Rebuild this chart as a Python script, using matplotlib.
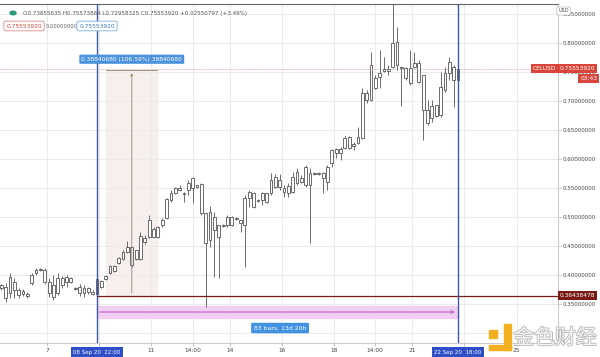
import numpy as np
import matplotlib.pyplot as plt
import matplotlib.patheffects as pe
from matplotlib.patches import Rectangle, Circle

plt.rcParams['font.family'] = ['DejaVu Sans']

# 4時間足 CELUSD (05 Sep - 22 Sep 2020)
o = [0.3776, 0.3793, 0.3690, 0.3879, 0.3741, 0.3672, 0.3638, 0.3862, 0.4034, 0.4086,
     0.4086, 0.3879, 0.3621, 0.3690, 0.3948, 0.3879, 0.3948, 0.3776, 0.3793, 0.3690,
     0.3776, 0.3707, 0.3672, 0.3897, 0.3931, 0.4034, 0.4069, 0.4207, 0.4276, 0.4397,
     0.4483, 0.4276, 0.4276, 0.4638, 0.4655, 0.4793, 0.4655, 0.4862, 0.4983, 0.5293,
     0.5414, 0.5466, 0.5414, 0.5466, 0.5500, 0.5552, 0.5569, 0.5069, 0.4603, 0.5000,
     0.4655, 0.4862, 0.4862, 0.5000, 0.4966, 0.4948, 0.4862, 0.5328, 0.5414, 0.5276,
     0.5293, 0.5414, 0.5414, 0.5690, 0.5517, 0.5500, 0.5414, 0.5431, 0.5586, 0.5672,
     0.5552, 0.5759, 0.5741, 0.5759, 0.5759, 0.5603, 0.5931, 0.6103, 0.6172, 0.6190,
     0.6379, 0.6224, 0.6276, 0.6362, 0.7138, 0.7017, 0.7397, 0.7414, 0.7517, 0.7552,
     0.7586, 0.8017, 0.7586, 0.7569, 0.7310, 0.7586, 0.7655, 0.7448, 0.6845, 0.6707,
     0.6931, 0.6759, 0.7190, 0.7483, 0.7586, 0.73655635]
h = [0.3845, 0.3862, 0.4034, 0.3948, 0.3776, 0.3759, 0.3707, 0.4034, 0.4121, 0.4121,
     0.4121, 0.3948, 0.4000, 0.4034, 0.3983, 0.4000, 0.3966, 0.3793, 0.3845, 0.3828,
     0.3793, 0.3741, 0.3983, 0.3914, 0.4000, 0.4172, 0.4172, 0.4310, 0.4431, 0.4586,
     0.4483, 0.4431, 0.4741, 0.4690, 0.5034, 0.4828, 0.4845, 0.4983, 0.5328, 0.5466,
     0.5517, 0.5552, 0.5431, 0.5638, 0.5690, 0.5552, 0.5586, 0.5069, 0.5190, 0.5086,
     0.4862, 0.4879, 0.5034, 0.5017, 0.5000, 0.4948, 0.5379, 0.5466, 0.5431, 0.5310,
     0.5431, 0.5414, 0.5759, 0.5741, 0.5741, 0.5552, 0.5586, 0.5776, 0.5845, 0.5724,
     0.5897, 0.5845, 0.5776, 0.5776, 0.5776, 0.5897, 0.6172, 0.6190, 0.6207, 0.6397,
     0.6397, 0.6293, 0.6552, 0.7224, 0.7190, 0.7845, 0.7448, 0.7879, 0.7759, 0.7621,
     0.8690, 0.8276, 0.7586, 0.7586, 0.7879, 0.7845, 0.7707, 0.7448, 0.7017, 0.7017,
     0.6931, 0.7500, 0.7586, 0.7759, 0.7621, 0.75573864]
l = [0.3741, 0.3534, 0.3603, 0.3603, 0.3603, 0.3638, 0.3603, 0.3828, 0.4000, 0.4069,
     0.3845, 0.3621, 0.3569, 0.3655, 0.3776, 0.3793, 0.3862, 0.3741, 0.3638, 0.3621,
     0.3672, 0.3655, 0.36438478, 0.3776, 0.3914, 0.4017, 0.4052, 0.4190, 0.4259, 0.4380,
     0.4138, 0.4259, 0.4259, 0.4534, 0.4638, 0.4638, 0.4638, 0.4828, 0.4966, 0.5259,
     0.5397, 0.5448, 0.5259, 0.5379, 0.5241, 0.5500, 0.5034, 0.3448, 0.4483, 0.3966,
     0.3948, 0.4828, 0.4828, 0.4845, 0.4948, 0.4741, 0.4138, 0.5172, 0.5155, 0.5259,
     0.5207, 0.5241, 0.5379, 0.5500, 0.5466, 0.5345, 0.5345, 0.5414, 0.5552, 0.5586,
     0.5517, 0.4552, 0.5724, 0.5724, 0.5414, 0.5466, 0.5862, 0.6017, 0.5983, 0.6172,
     0.6172, 0.6155, 0.6260, 0.6350, 0.6966, 0.7000, 0.7210, 0.7224, 0.7500, 0.7448,
     0.7570, 0.7534, 0.6914, 0.7362, 0.7276, 0.7570, 0.7310, 0.6328, 0.6586, 0.6638,
     0.6730, 0.6724, 0.7155, 0.7362, 0.6897, 0.72958325]
c = [0.3828, 0.3603, 0.3966, 0.3741, 0.3655, 0.3724, 0.3672, 0.4000, 0.4086, 0.4103,
     0.3879, 0.3690, 0.3828, 0.3948, 0.3828, 0.3966, 0.3879, 0.3759, 0.3690, 0.3776,
     0.3707, 0.3672, 0.3931, 0.3793, 0.3983, 0.4155, 0.4155, 0.4293, 0.4397, 0.4483,
     0.4172, 0.4431, 0.4672, 0.4569, 0.4948, 0.4655, 0.4828, 0.4948, 0.5310, 0.5414,
     0.5500, 0.5500, 0.5397, 0.5586, 0.5672, 0.5517, 0.5069, 0.4552, 0.5086, 0.4776,
     0.4862, 0.4845, 0.5000, 0.4862, 0.4983, 0.4897, 0.5328, 0.5431, 0.5172, 0.5293,
     0.5414, 0.5259, 0.5638, 0.5517, 0.5638, 0.5431, 0.5534, 0.5690, 0.5776, 0.5603,
     0.5862, 0.5552, 0.5759, 0.5741, 0.5672, 0.5862, 0.6155, 0.6172, 0.6103, 0.6362,
     0.6190, 0.6259, 0.6379, 0.7138, 0.7017, 0.7621, 0.7224, 0.7483, 0.7552, 0.7517,
     0.8000, 0.7621, 0.7569, 0.7397, 0.7569, 0.7655, 0.7328, 0.6845, 0.6621, 0.6914,
     0.6741, 0.7241, 0.7483, 0.7672, 0.7362, 0.75553920]

# x軸ラベル (測定開始バーからの時間 [h])、空文字は日付ボックスの下に隠れる目盛り
tick_labels = ["7", "", "11", "14:00", "14", "16", "18", "14:00", "21", "", "25"]
tick_hours = [-46, 2, 50, 88, 122, 170, 218, 256, 290, 338, 386]
price_ticks = [0.30, 0.35, 0.40, 0.45, 0.50, 0.55, 0.60, 0.65, 0.70, 0.75, 0.80, 0.85]

start_idx, end_idx = 22, 105
meas_low = 0.36438478
meas_diff = 0.38840680
meas_high = meas_low + meas_diff
last_price = c[-1]

fig = plt.figure(figsize=(6, 3.57), dpi=100)
ax = fig.add_axes([0, 14 / 357, 558 / 600, 339 / 357])

x = np.arange(len(o))
lo_b = np.minimum(o, c)
hi_b = np.maximum(o, c)
ax.vlines(x, l, h, color='#555555', lw=0.6, zorder=3)
ax.bar(x, hi_b - lo_b, bottom=lo_b, width=0.64, color='white',
       edgecolor='#555555', lw=0.6, zorder=4)

ax.set_xlim(-0.3, 128)
ax.set_ylim(0.2828, 0.8672)

# 目盛り・グリッド
xt = [start_idx + hr / 4 for hr in tick_hours]
ax.set_xticks(xt)
ax.set_xticklabels(tick_labels, fontsize=4.2, color='#444444')
ax.yaxis.tick_right()
ax.set_yticks(price_ticks)
ax.set_yticklabels(['' if p < 0.33 else '%.8f' % p for p in price_ticks],
                   fontsize=4, color='#444444')
ax.tick_params(axis='both', length=2, width=0.5, color='#aaaaaa', pad=1.5)
ax.grid(color='#ebebeb', lw=0.7, zorder=0)
ax.spines['left'].set_visible(False)
ax.spines['top'].set_color('#666666')
ax.spines['top'].set_linewidth(0.8)
ax.spines['right'].set_color('#cccccc')
ax.spines['bottom'].set_color('#cccccc')

# 現在値の点線
ax.axhline(last_price, color='#e5aaaa', lw=0.6, ls=(0, (2, 1.5)), zorder=2)

# 価格レンジ計測ツール
x0, x1 = start_idx + 2.1, start_idx + 13.8
ax.add_patch(Rectangle((x0, meas_low), x1 - x0, meas_diff, color='#f7eeee', zorder=1))
ax.plot([x0, x1], [meas_high, meas_high], color='#8a8a6a', lw=0.6, zorder=5)
ax.annotate('', xy=(30, meas_high), xytext=(30, meas_low),
            arrowprops=dict(arrowstyle='->', color='#8a8a6a', lw=0.6, mutation_scale=4), zorder=5)
ax.text(30, 0.772, '0.38840680 (106.59%) 38840680', fontsize=4.3, color='white',
        ha='center', va='center', zorder=7,
        bbox=dict(boxstyle='round,pad=0.35,rounding_size=0.2', fc='#4a92dc', ec='none'))

# 0.36438478 ライン
ax.plot([start_idx, 128], [meas_low, meas_low], color='#7a1a14', lw=0.9, zorder=5)

# 日付レンジ計測ツール
ax.axvline(start_idx, color='#3c58a6', lw=1.0, zorder=6)
ax.axvline(end_idx, color='#3c58a6', lw=1.0, zorder=6)
ax.add_patch(Rectangle((start_idx, 0.3259), end_idx - start_idx, 0.0207,
                       color='#f2cff2', zorder=2))
ax.annotate('', xy=(end_idx, 0.3362), xytext=(start_idx, 0.3362),
            arrowprops=dict(arrowstyle='->', color='#c66cc6', lw=0.9, mutation_scale=5), zorder=3)
ax.text((start_idx + end_idx) / 2 + 0.6, 0.3086, '83 bars, 13d 20h', fontsize=4.4,
        color='white', ha='center', va='center', zorder=7,
        bbox=dict(boxstyle='round,pad=0.45,rounding_size=0.2', fc='#4192e0', ec='none'))

# 下部の日付ラベル
for idx, txt in [(start_idx, '08 Sep 20  22:00'), (end_idx, '22 Sep 20  18:00')]:
    ax.annotate(txt, xy=(idx, 0), xycoords=('data', 'axes fraction'),
                xytext=(0, -6.5), textcoords='offset points', fontsize=4.0,
                color='white', ha='center', va='center', annotation_clip=False, zorder=8,
                bbox=dict(boxstyle='square,pad=0.5', fc='#2e4fc8', ec='none'))

# 右軸のラベル
yt = ax.get_yaxis_transform()
ax.text(1.003, last_price, '0.75553920', transform=yt, fontsize=4.2, color='white',
        va='center', ha='left', clip_on=False, zorder=8,
        bbox=dict(boxstyle='square,pad=0.35', fc='#d9453b', ec='none'))
ax.text(0.997, last_price, 'CELUSD', transform=yt, fontsize=4.2, color='white',
        va='center', ha='right', clip_on=False, zorder=8,
        bbox=dict(boxstyle='square,pad=0.35', fc='#d9453b', ec='none'))
ax.annotate('03:43', xy=(1.04, last_price), xycoords=yt, xytext=(0, -7),
            textcoords='offset points', fontsize=4.2, color='white', va='center',
            ha='left', annotation_clip=False, zorder=8,
            bbox=dict(boxstyle='square,pad=0.35', fc='#d9453b', ec='none'))
ax.text(1.003, meas_low, '0.36438478', transform=yt, fontsize=4.2, color='white',
        va='center', ha='left', clip_on=False, zorder=8,
        bbox=dict(boxstyle='square,pad=0.35', fc='#7a1a14', ec='none'))
fig.text(563.5 / 600, 1 - 11 / 357, 'USD', fontsize=3.6, color='#555555', ha='center',
         va='center', bbox=dict(boxstyle='round,pad=0.3,rounding_size=0.3', fc='white', ec='#bbbbbb', lw=0.5))

# ヘッダー
fig.patches.append(Circle((13 / 600, 1 - 13 / 357), 0.005, transform=fig.transFigure,
                          color='#2a9a7a', figure=fig))
fig.text(23 / 600, 1 - 13 / 357,
         'O0.73655635 H0.75573864 L0.72958325 C0.75553920 +0.02550797 (+3.49%)',
         fontsize=4.1, color='#555555', va='center')
fig.text(24 / 600, 1 - 26 / 357, '0.75553920', fontsize=4.2, color='#d9453b', ha='center',
         va='center', bbox=dict(boxstyle='round,pad=0.4,rounding_size=0.3', fc='white', ec='#e08a84', lw=0.6))
fig.text(62 / 600, 1 - 26 / 357, '0.00000000', fontsize=3.8, color='#666666', ha='center', va='center')
fig.text(97 / 600, 1 - 26 / 357, '0.75553920', fontsize=4.2, color='#3b7bbf', ha='center',
         va='center', bbox=dict(boxstyle='round,pad=0.4,rounding_size=0.3', fc='white', ec='#7aaee0', lw=0.6))

# ウォーターマーク
for rx, ry, rw, rh in [(489, 345, 22, 5), (504, 324, 7, 26), (489, 330, 8, 8)]:
    fig.patches.append(Rectangle((rx / 600, 1 - (ry + rh) / 357), rw / 600, rh / 357,
                                 transform=fig.transFigure, color='#f2b021', figure=fig))
fig.text(555 / 600, 1 - 338 / 357, '金色财经', fontsize=15, color='#f4f4f4', ha='center',
         va='center', family=['Noto Sans CJK SC', 'DejaVu Sans'], zorder=10,
         path_effects=[pe.withStroke(linewidth=1.2, foreground='#b8b8b8')])

fig.savefig('out.png', dpi=100)
